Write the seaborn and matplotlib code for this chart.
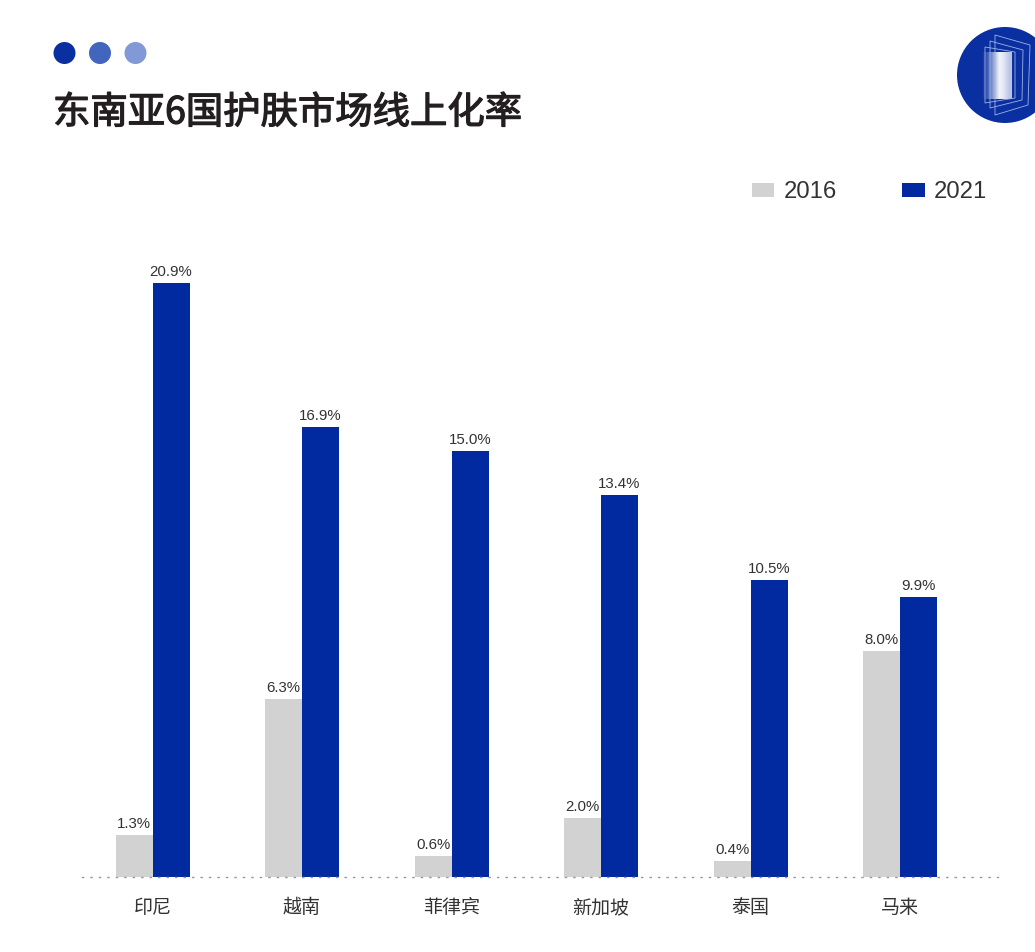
#!/usr/bin/env python

import numpy as np
import pandas as pd
import matplotlib
matplotlib.use("Agg")
import matplotlib.pyplot as plt
import matplotlib.patheffects as pe
from matplotlib.patches import Circle, Polygon
import seaborn as sns

countries = ["印尼", "越南", "菲律宾", "新加坡", "泰国", "马来"]
years = ["2016", "2021"]

# bar heights as drawn in the picture, they do not always agree with the printed label
height_2016 = [1.48, 6.27, 0.74, 2.08, 0.56, 7.96]
height_2021 = [20.9, 15.85, 15.0, 13.45, 10.46, 9.86]
labels_2016 = ["1.3%", "6.3%", "0.6%", "2.0%", "0.4%", "8.0%"]
labels_2021 = ["20.9%", "16.9%", "15.0%", "13.4%", "10.5%", "9.9%"]

title = "东南亚6国护肤市场线上化率"
dot_colors = ["#0a2fa0", "#4265bd", "#8199d6"]
BLUE = "#012aa0"
GRAY = "#d2d2d2"
W, H = 1035, 952

sns.set_theme(style="white")
plt.rcParams["font.family"] = ["Liberation Sans", "Noto Sans CJK SC"]

df = pd.DataFrame({
    "country": countries * 2,
    "year": [years[0]] * 6 + [years[1]] * 6,
    "value": height_2016 + height_2021,
})

fig = plt.figure(figsize=(W / 100, H / 100), dpi=100, facecolor="white")

# plot area runs along the dotted baseline, x 82-998 px and y 240-877 px
ax = fig.add_axes([82 / W, 1 - 877 / H, 916 / W, 637 / H])
sns.barplot(
    data=df, x="country", y="value", hue="year", order=countries, hue_order=years,
    palette=[GRAY, BLUE], width=0.495, saturation=1, gap=0, linewidth=0, ax=ax,
)
ax.set_xlim(-0.4716, 5.655)
ax.set_ylim(0, 22.43)
ax.set_xlabel("")
ax.set_ylabel("")
ax.set_yticks([])
ax.tick_params(axis="x", length=0, pad=14.5, labelsize=13.7, labelcolor="#333333")
for tick in ax.get_xticklabels():
    tick.set_fontfamily("Noto Sans CJK SC")
ax.patch.set_alpha(0)
sns.despine(ax=ax, left=True)
ax.spines["bottom"].set_color("#999999")
ax.spines["bottom"].set_linewidth(1.0)
ax.spines["bottom"].set_linestyle((0, (0.8, 5.3)))

for container, labels in zip(ax.containers, [labels_2016, labels_2021]):
    ax.bar_label(container, labels=labels, padding=3, fontsize=10.8, color="#333333")

handles, texts = ax.get_legend_handles_labels()
ax.legend(
    handles, texts, ncol=2, frameon=False, loc="center right",
    bbox_to_anchor=(987 / W, 1 - 192.5 / H), bbox_transform=fig.transFigure,
    fontsize=17.2, labelcolor="#333333", borderpad=0, borderaxespad=0,
    handlelength=0.93, handleheight=0.5, handletextpad=0.38, columnspacing=2.75,
)

# header decoration in pixel coordinates
deco = fig.add_axes([0, 0, 1, 1], zorder=5)
deco.set_xlim(0, W)
deco.set_ylim(H, 0)
deco.axis("off")
for cx, c in zip([64.5, 100, 135.5], dot_colors):
    deco.add_patch(Circle((cx, 53), 11, color=c, lw=0))
# the CJK font has no medium weight here, thicken the regular one a little
deco.text(53, 113, title, fontsize=26.9, family="Noto Sans CJK SC", color="#231f20",
          va="center", ha="left",
          path_effects=[pe.withStroke(linewidth=0.9, foreground="#231f20")])

# round logo at the top right
disc = Circle((1005, 75), 48, color="#0a2fa0", lw=0)
deco.add_patch(disc)
ramp = np.array([[0.0, 0.12, 0.3, 0.5, 0.75, 0.95, 0.9, 0.8, 0.72]])
rgba = np.ones((1, 9, 4))
rgba[..., 3] = ramp
deco.imshow(rgba, extent=(980, 1012, 99, 52), aspect="auto", interpolation="bilinear", zorder=3)
deco.set_xlim(0, W)
deco.set_ylim(H, 0)
frames = [
    [(995, 35), (1030, 45), (1028, 105), (995, 115)],
    [(990, 41), (1023, 50), (1022, 100), (990, 108)],
    [(985, 47), (1015, 52), (1015, 98), (985, 103)],
]
for pts in frames:
    deco.add_patch(Polygon(pts, closed=True, fill=False, ec="#9fb2e6", lw=0.6, zorder=4))

fig.savefig("out.png", dpi=100)
plt.close(fig)
